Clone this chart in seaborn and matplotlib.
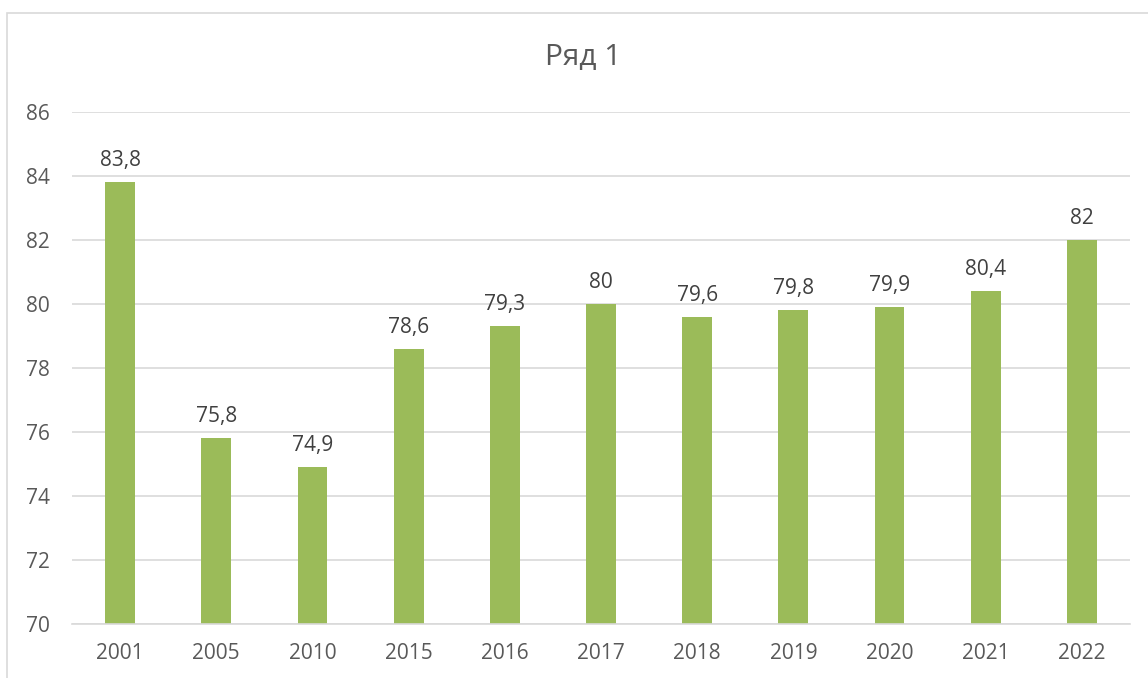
import matplotlib
matplotlib.use("Agg")
import matplotlib.pyplot as plt
import seaborn as sns
import pandas as pd
from matplotlib.patches import Rectangle

years = ["2001", "2005", "2010", "2015", "2016", "2017", "2018", "2019", "2020", "2021", "2022"]
values = [83.8, 75.8, 74.9, 78.6, 79.3, 80.0, 79.6, 79.8, 79.9, 80.4, 82.0]
title = "Ряд 1"
yticks = [70, 72, 74, 76, 78, 80, 82, 84, 86]

sns.set_style("white")
plt.rcParams["font.family"] = ["Open Sans", "DejaVu Sans"]

W, H = 1148, 678
fig = plt.figure(figsize=(W / 100, H / 100), dpi=100)
ax = fig.add_axes([72 / W, 1 - 624 / H, (1130 - 72) / W, (624 - 112) / H])

df = pd.DataFrame({"year": years, "value": values})
sns.barplot(data=df, x="year", y="value", color="#9BBB59", saturation=1, width=0.31,
            linewidth=0, ax=ax)

ax.set_ylim(70, 86)
ax.set_xlim(-0.5, len(years) - 0.5)
ax.set_yticks(yticks)
ax.set_yticklabels([str(t) for t in yticks])
ax.yaxis.grid(True, color="#D9D9D9", linewidth=1.2)
ax.set_axisbelow(True)
for s in ["top", "right", "left"]:
    ax.spines[s].set_visible(False)
ax.spines["bottom"].set_color("#D9D9D9")
ax.spines["bottom"].set_linewidth(1.2)
ax.tick_params(axis="both", length=0, labelsize=15, labelcolor="#595959")
ax.tick_params(axis="y", pad=16)
ax.tick_params(axis="x", pad=14)
ax.set_xlabel("")
ax.set_ylabel("")

def fmt(v):
    s = f"{v:.1f}"
    if s.endswith(".0"):
        s = s[:-2]
    return s.replace(".", ",")

ax.bar_label(ax.containers[0], labels=[fmt(v) for v in values], padding=8,
             fontsize=15, color="#404040")

fig.text(583 / W, 1 - 58 / H, title, ha="center", va="center", fontsize=21.5, color="#595959")

fig.patches.append(Rectangle((7 / W, -0.05), 1.2, 1 - 13 / H + 0.05, transform=fig.transFigure,
                             fill=False, edgecolor="#D9D9D9", linewidth=1.2))

fig.savefig("out.png", dpi=100)
